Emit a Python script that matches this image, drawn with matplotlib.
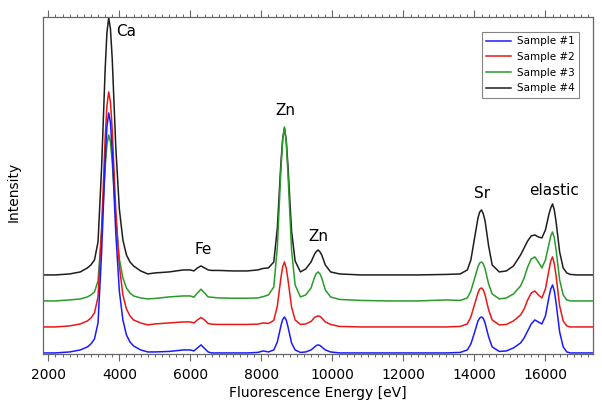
import matplotlib
matplotlib.use('Agg')
import matplotlib.pyplot as plt
from matplotlib.ticker import MultipleLocator

# energy grid [eV], shared by the four spectra (one row per region)
energy = [1860, 2200, 2600, 2900, 3100, 3200, 3300, 3400, 3500, 3600,
          3650, 3700, 3750, 3800, 3900, 4000, 4100, 4200, 4300, 4400, 4600, 4800,
          5000, 5400, 5800, 6000, 6100, 6200, 6300, 6400, 6500, 6600,
          6800, 7200, 7600, 7900, 8050, 8200, 8350, 8450, 8550, 8600, 8650, 8700, 8750, 8850, 8950, 9100,
          9250, 9400, 9500, 9550, 9600, 9650, 9700, 9800, 9950, 10200,
          10800, 11600, 12400, 13200, 13600, 13800, 13900, 14000, 14100, 14150, 14200, 14250, 14300, 14400, 14500, 14700,
          14900, 15100, 15300, 15400, 15500, 15600, 15700, 15800, 15900, 16000, 16100, 16150, 16200, 16250,
          16300, 16400, 16500, 16600, 16700, 16900, 17100, 17330]

# intensities (arb. units)
sample1 = [1, 1, 2, 4, 7, 10, 15, 31, 101, 193,
           227, 241, 231, 202, 121, 63, 34, 19, 12, 8, 4, 2,
           2, 2.5, 4, 4, 3, 6, 9, 5.5, 2, 1,
           1, 1, 1, 1.5, 3, 2, 4, 12, 28, 34.5, 37, 34, 27, 11, 4, 1.5,
           2, 4, 7, 8.5, 9, 8.5, 7, 4, 2, 1,
           1, 1, 1, 1, 1.5, 4, 10, 21, 33, 36, 37, 35.5, 31, 17, 7, 2.5,
           3, 6, 11, 16, 23, 30, 34, 32, 30, 38, 57, 65, 69, 63,
           51, 22, 7, 2, 1, 1, 1, 1]
sample2 = [1, 1, 2, 4, 7, 10, 15, 31, 99, 189,
           222, 236, 226, 198, 118, 62, 33, 19, 12, 8, 5, 3,
           4, 5, 6, 6, 5, 8, 10.5, 8, 4.5, 3.7,
           3.5, 3.5, 3.5, 3.8, 5, 4.5, 7.5, 22, 50, 61, 66, 60, 48, 21, 8, 3.5,
           4, 6.5, 10.5, 11.5, 12, 11.5, 10, 6, 3.5, 1.5,
           1, 1, 1, 1, 1.5, 4, 11, 23, 35, 39, 40, 38, 33, 18, 8, 3,
           3.5, 7, 13, 19, 28, 35, 37, 33, 30, 39, 58, 67, 71, 64,
           52, 22, 7, 2, 1, 1, 1, 1]
sample3 = [1, 1, 2, 3, 5, 7, 10, 21, 70, 134,
           157, 167, 160, 140, 84, 43, 24, 14, 9, 6, 4, 3,
           3.5, 5, 6, 6, 4.7, 9, 12.7, 9, 5, 4.7,
           4, 3.7, 3.7, 4, 5.3, 7, 15, 55, 132, 162, 175, 160, 127, 52, 17, 5,
           7, 14, 25, 28.5, 30, 28, 24, 12, 5, 2.5,
           1.5, 1, 1, 2, 1.5, 4, 11, 23, 35, 39, 40, 38, 33, 18, 8, 3,
           4, 8, 16, 24, 35, 43, 45, 40, 34, 42, 58, 66, 70, 64,
           52, 22, 7, 2, 1, 1, 1, 1]
sample4 = [1, 1, 2, 4, 8, 11, 16, 34, 108, 206,
           243, 258, 247, 217, 129, 67, 36, 21, 14, 10, 5, 2,
           3, 4, 6, 6, 5, 8, 10, 8, 6, 5.5,
           5.5, 5, 5, 6, 7.5, 8, 14, 48, 113, 137, 148, 136, 109, 45, 15, 4,
           7, 14, 22, 24.5, 26, 24, 21, 11, 4, 2,
           1, 1, 1, 1.5, 2, 6, 16, 37, 58, 64, 66, 62, 55, 30, 11, 4,
           5, 10, 21, 28, 35, 40, 41, 39, 38, 46, 62, 68, 72, 66,
           54, 24, 8, 3, 1.5, 1, 1, 1]

labels = ['Sample #1', 'Sample #2', 'Sample #3', 'Sample #4']
offsets = [0, 26, 52, 78]
colors = ['#1a1aff', '#e81818', '#2a9a2a', '#1e1e1e']

# peak labels: (text, energy, height)
peak_names = ['Ca', 'Fe', 'Zn', 'Zn', 'Sr', 'elastic']
peak_x = [4190, 6372, 8668, 9611, 14217, 16232]
peak_y = [322, 104, 243, 117, 160, 163]

fig = plt.figure(figsize=(6.02, 4.13), dpi=100)
ax = fig.add_axes([0.072, 0.143, 0.9125, 0.816])

spectra = [sample1, sample2, sample3, sample4]
lines = []
# draw sample #4 first so sample #1 ends on top
for i in range(3, -1, -1):
    y = [v + offsets[i] for v in spectra[i]]
    ln, = ax.plot(energy, y, color=colors[i], lw=1.1, label=labels[i])
    lines.append(ln)
lines = lines[::-1]

for name, px, py in zip(peak_names, peak_x, peak_y):
    ax.text(px, py, name, ha='center', va='center', fontsize=11)

ax.set_xlim(1860, 17330)
ax.set_ylim(0, 337)
ax.xaxis.set_major_locator(MultipleLocator(2000))
ax.xaxis.set_minor_locator(MultipleLocator(200))
ax.tick_params(axis='x', which='both', direction='out', top=True,
               labeltop=False, color='#666666', labelsize=10, pad=5)
ax.tick_params(axis='x', which='major', length=5, width=0.8)
ax.tick_params(axis='x', which='minor', length=2.5, width=0.7)
ax.set_yticks([])
for s in ax.spines.values():
    s.set_color('#666666')
    s.set_linewidth(0.9)

ax.set_xlabel('Fluorescence Energy [eV]', fontsize=10, labelpad=3)
ax.set_ylabel('Intensity', fontsize=10)
ax.yaxis.set_label_coords(-0.042, 0.48)

leg = ax.legend(handles=lines, loc='upper right', bbox_to_anchor=(0.975, 0.955),
                fontsize=7.5, frameon=True, fancybox=False, borderaxespad=0,
                borderpad=0.4, labelspacing=0.55, handlelength=2.4,
                handletextpad=0.6)
leg.get_frame().set_edgecolor('#666666')
leg.get_frame().set_linewidth(0.8)

fig.savefig('out.png', dpi=100)
